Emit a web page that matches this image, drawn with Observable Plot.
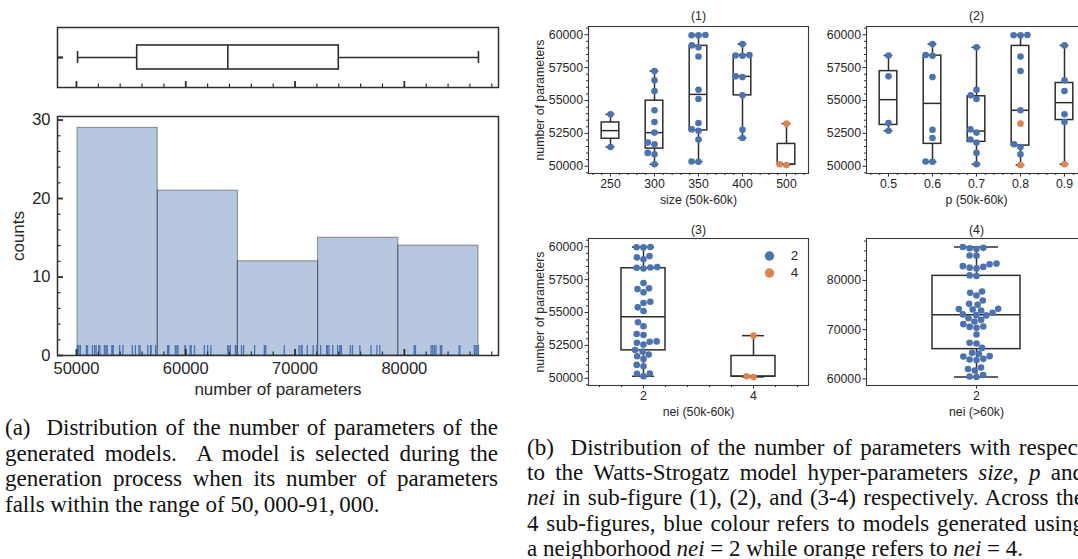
<!DOCTYPE html>
<html><head><meta charset="utf-8">
<script src="https://cdn.jsdelivr.net/npm/d3@7"></script>
<script src="https://cdn.jsdelivr.net/npm/@observablehq/plot@0.6"></script>
<style>
html,body{margin:0;padding:0;background:#fff;}
#page{position:relative;width:1078px;height:559px;overflow:hidden;background:#fff;}
.panel{position:absolute;}
.panel svg{display:block;overflow:visible;}
.cap{position:absolute;font-family:"Liberation Serif","Times New Roman",serif;font-size:23px;color:#111;}
.cap .ln{text-align:justify;text-align-last:justify;}
.cap .last{text-align:left;text-align-last:left;}
</style>
</head><body>
<div id="page">
  <div class="panel" id="pA" style="left:0;top:0"></div>
  <div class="panel" id="pB" style="left:0;top:100px"></div>
  <div class="panel" id="p1" style="left:520px;top:0"></div>
  <div class="panel" id="p2" style="left:800px;top:0"></div>
  <div class="panel" id="p3" style="left:520px;top:215px"></div>
  <div class="panel" id="p4" style="left:800px;top:215px"></div>
  <div class="cap" style="left:5px;top:415px;width:493px;line-height:25.6px">
    <div class="ln">(a)&nbsp; Distribution of the number of parameters of the</div>
    <div class="ln">generated models.&nbsp; A model is selected during the</div>
    <div class="ln">generation process when its number of parameters</div>
    <div class="ln last">falls within the range of 50,&#8201;000-91,&#8201;000.</div>
  </div>
  <div class="cap" style="left:527px;top:435px;width:557px;line-height:25.2px">
    <div class="ln">(b)&nbsp; Distribution of the number of parameters with respect</div>
    <div class="ln">to the Watts-Strogatz model hyper-parameters <i>size</i>, <i>p</i> and</div>
    <div class="ln"><i>nei</i> in sub-figure (1), (2), and (3-4) respectively. Across the</div>
    <div class="ln">4 sub-figures, blue colour refers to models generated using</div>
    <div class="ln last">a neighborhood <i>nei</i> = 2 while orange refers to <i>nei</i> = 4.</div>
  </div>
</div>
<script>
// ---------------- data ----------------
const sizeCats = [250, 300, 350, 400, 500];
const pCats = [0.5, 0.6, 0.7, 0.8, 0.9];
const neiCats = [2, 4];

// models with 50k-60k parameters
const params5060 = [53949, 51468, 57241, 56532, 55722, 54253, 53367, 52557, 51797, 51671, 51013, 50911, 50152,
  59975, 59960, 59950, 59190, 59040, 58350, 55820, 55110, 53290, 52800, 52700, 52030, 50360, 50340,
  59290, 58450, 58420, 58400, 56835, 56780, 55390, 52780, 52150,
  53240, 50150, 50100];
const size5060 = [250, 250, 300, 300, 300, 300, 300, 300, 300, 300, 300, 300, 300,
  350, 350, 350, 350, 350, 350, 350, 350, 350, 350, 350, 350, 350, 350,
  400, 400, 400, 400, 400, 400, 400, 400, 400,
  500, 500, 500];
const p5060 = [0.9, 0.8, 0.8, 0.9, 0.9, 0.8, 0.9, 0.7, 0.7, 0.8, 0.7, 0.8, 0.7,
  0.8, 0.8, 0.8, 0.9, 0.7, 0.8, 0.7, 0.7, 0.5, 0.7, 0.5, 0.7, 0.6, 0.6,
  0.6, 0.6, 0.5, 0.6, 0.5, 0.6, 0.7, 0.6, 0.6,
  0.8, 0.9, 0.8];
const nei5060 = [2, 2, 2, 2, 2, 2, 2, 2, 2, 2, 2, 2, 2,
  2, 2, 2, 2, 2, 2, 2, 2, 2, 2, 2, 2, 2, 2,
  2, 2, 2, 2, 2, 2, 2, 2, 2,
  4, 4, 4];
// models with more than 60k parameters (all nei = 2)
const params60 = [86780, 86620, 86550, 86400, 85080, 85020, 83420, 83300, 82900, 82750, 82600, 82450, 81020, 80900,
  77760, 77490, 76950, 75930, 75250, 75050, 74240, 74200, 74100, 73900, 73450, 73100, 72950, 72900, 72340,
  72000, 71650, 71120, 70640, 70560, 70370, 69020, 67320, 67190, 66300, 65290, 65100,
  64620, 64540, 64070, 63940, 63850, 62300, 62000, 61700, 60800, 60500, 60400];
const nei60 = params60.map(() => 2);

const histBins = 5;
const histMajor = [50000, 60000, 70000, 80000];
const countMajor = [0, 10, 20, 30];
const yMajor50 = [50000, 52500, 55000, 57500, 60000];
const yMajor60 = [60000, 70000, 80000];

// ---------------- styles ----------------
const blue = "#4c72b0", orange = "#dd8452", ink = "#262626", lineC = "#2e2e2e";
const svgStyle = "background:transparent;overflow:visible;max-width:none;font-family:'Liberation Sans',Arial,sans-serif;color:#262626;";

function boxStats(vals) {
  const s = vals.slice().sort(d3.ascending);
  const q1 = d3.quantileSorted(s, 0.25), med = d3.quantileSorted(s, 0.5), q3 = d3.quantileSorted(s, 0.75);
  const iqr = q3 - q1;
  const lo = d3.min(s.filter(v => v >= q1 - 1.5 * iqr));
  const hi = d3.max(s.filter(v => v <= q3 + 1.5 * iqr));
  return {q1, med, q3, lo, hi};
}

// seaborn-like beeswarm in pixel space
function swarm(ys, r) {
  const order = d3.range(ys.length).sort((a, b) => ys[a] - ys[b]);
  const placed = [], out = new Array(ys.length), D2 = 4 * r * r;
  for (const i of order) {
    const y = ys[i];
    const neigh = placed.filter(p => Math.abs(p.y - y) < 2 * r);
    const cands = [0];
    let leftFirst = true;
    for (const p of neigh) {
      const dx = Math.sqrt(Math.max(D2 - (y - p.y) ** 2, 0)) * 1.05;
      if (leftFirst) cands.push(p.x - dx, p.x + dx); else cands.push(p.x + dx, p.x - dx);
      leftFirst = !leftFirst;
    }
    const sorted = cands.map((x, k) => ({x, k})).sort((a, b) => Math.abs(a.x) - Math.abs(b.x) || a.k - b.k);
    let chosen = sorted[0].x;
    for (const c of sorted) {
      if (neigh.every(p => (p.x - c.x) ** 2 + (p.y - y) ** 2 >= D2 - 1e-6)) { chosen = c.x; break; }
    }
    placed.push({x: chosen, y});
    out[i] = chosen;
  }
  return out;
}

function padDomain(vals, f) {
  const [a, b] = d3.extent(vals);
  return [a - f * (b - a), b + f * (b - a)];
}
function minorTicks(dom, step, majors) {
  return d3.range(Math.ceil(dom[0] / step) * step, dom[1] + 1e-9, step)
    .filter(v => !majors.some(m => Math.abs(m - v) < 1e-6));
}
const mid = {textAnchor: "middle", lineAnchor: "middle"};

// ---------------- left panel ----------------
const all = params5060.concat(params60);
const xDom = padDomain(all, 0.05);
const xMinor = minorTicks(xDom, 2000, histMajor);
const allStats = boxStats(all);
const blank = () => "";

const boxA = Plot.plot({
  width: 520, height: 100, marginLeft: 57, marginRight: 22, marginTop: 27, marginBottom: 13,
  style: svgStyle,
  x: {domain: xDom}, y: {domain: [-0.5, 0.5]},
  marks: [
    Plot.rect([allStats], {x1: "q1", x2: "q3", y1: () => -0.2, y2: () => 0.2, fill: "white", stroke: lineC, strokeWidth: 1.6}),
    Plot.ruleY([allStats], {y: () => 0, x1: "lo", x2: "q1", stroke: lineC, strokeWidth: 1.6}),
    Plot.ruleY([allStats], {y: () => 0, x1: "q3", x2: "hi", stroke: lineC, strokeWidth: 1.6}),
    Plot.ruleX([allStats.lo, allStats.hi], {x: d => d, y1: () => -0.1, y2: () => 0.1, stroke: lineC, strokeWidth: 1.6}),
    Plot.ruleX([allStats], {x: "med", y1: () => -0.2, y2: () => 0.2, stroke: lineC, strokeWidth: 1.6}),
    Plot.frame({stroke: lineC, strokeWidth: 1.5}),
    Plot.axisX({ticks: histMajor, tickSize: -6, strokeWidth: 1.8, tickFormat: blank, label: null, stroke: lineC}),
    Plot.axisX({ticks: xMinor, tickSize: -3.5, strokeWidth: 1.2, tickFormat: blank, label: null, stroke: lineC}),
    Plot.axisY({ticks: [0], tickSize: -6, strokeWidth: 2.2, tickFormat: blank, label: null, stroke: lineC})
  ]
});
document.getElementById("pA").append(boxA);

const bins = d3.bin().domain(d3.extent(all))
  .thresholds(d3.range(1, histBins).map(k => d3.min(all) + k * (d3.max(all) - d3.min(all)) / histBins))(all)
  .map(b => ({x0: b.x0, x1: b.x1, count: b.length}));
const yHistDom = [0, d3.max(bins, b => b.count) * 1.05];
const histH = 300, histMT = 16, histMB = 45;

const hist = Plot.plot({
  width: 520, height: histH, marginLeft: 57, marginRight: 22, marginTop: histMT, marginBottom: histMB,
  style: svgStyle,
  x: {domain: xDom}, y: {domain: yHistDom},
  marks: [
    Plot.rect(bins, {x1: "x0", x2: "x1", y1: () => 0, y2: "count", fill: blue, fillOpacity: 0.4, stroke: "#1a1a1a", strokeOpacity: 0.42, strokeWidth: 1.1}),
    Plot.tickX(all, {x: d => d, stroke: blue, strokeWidth: 1.3, insetTop: histH - histMT - histMB - 10}),
    Plot.frame({stroke: lineC, strokeWidth: 1.5}),
    Plot.axisX({ticks: histMajor, tickSize: -6, tickPadding: 13, strokeWidth: 1.8, fontSize: 16.5, tickFormat: d => String(d), label: null, stroke: lineC}),
    Plot.axisX({ticks: xMinor, tickSize: -3.5, strokeWidth: 1.2, tickFormat: blank, label: null, stroke: lineC}),
    Plot.axisY({ticks: countMajor, tickSize: -6, tickPadding: 13, strokeWidth: 1.8, fontSize: 16.5, tickFormat: d => String(d), label: null, stroke: lineC}),
    Plot.axisY({ticks: minorTicks(yHistDom, 2, countMajor), tickSize: -3.5, strokeWidth: 1.2, tickFormat: blank, label: null, stroke: lineC}),
    Plot.text(["number of parameters"], {frameAnchor: "bottom", dy: 34, fontSize: 17, fill: ink, ...mid}),
    Plot.text(["counts"], {frameAnchor: "left", dx: -39, rotate: -90, fontSize: 17, fill: ink, ...mid})
  ]
});
document.getElementById("pB").append(hist);

// ---------------- right panels ----------------
const R = 3.3;
function catPanel(o) {
  const {cats, values, groups, neis, yMajor, yMinorStep, width, height, mL, mR, mT, mB, title, xlabel, ylabel, legend, minorX, fmt} = o;
  const n = cats.length;
  const innerW = width - mL - mR, innerH = height - mT - mB;
  const band = innerW / n;
  const yDom = padDomain(values, 0.066);
  const pxPerUnit = innerH / (yDom[1] - yDom[0]);
  const rows = values.map((v, i) => ({v, ci: cats.indexOf(groups[i]), nei: neis[i]}));
  const stats = cats.map((c, ci) => ({ci, ...boxStats(rows.filter(r => r.ci === ci).map(r => r.v))}));
  cats.forEach((c, ci) => {
    const g = rows.filter(r => r.ci === ci);
    const offs = swarm(g.map(r => r.v * pxPerUnit), R);
    g.forEach((r, k) => { r.x = ci + offs[k] / band; });
  });
  const xMin = minorX ? d3.range(-0.4, n - 0.5, 0.2).filter(v => Math.abs(v - Math.round(v)) > 1e-6) : [];
  const marks = [
    Plot.rect(stats, {x1: d => d.ci - 0.2, x2: d => d.ci + 0.2, y1: "q1", y2: "q3", fill: "white", stroke: lineC, strokeWidth: 1.5}),
    Plot.ruleX(stats, {x: "ci", y1: "q3", y2: "hi", stroke: lineC, strokeWidth: 1.5}),
    Plot.ruleX(stats, {x: "ci", y1: "lo", y2: "q1", stroke: lineC, strokeWidth: 1.5}),
    Plot.ruleY(stats, {y: "hi", x1: d => d.ci - 0.1, x2: d => d.ci + 0.1, stroke: lineC, strokeWidth: 1.5}),
    Plot.ruleY(stats, {y: "lo", x1: d => d.ci - 0.1, x2: d => d.ci + 0.1, stroke: lineC, strokeWidth: 1.5}),
    Plot.ruleY(stats, {y: "med", x1: d => d.ci - 0.2, x2: d => d.ci + 0.2, stroke: lineC, strokeWidth: 1.5}),
    Plot.dot(rows, {x: "x", y: "v", r: R, fill: "nei", stroke: "none"}),
    Plot.frame({stroke: "#3a3a3a", strokeWidth: 1.1}),
    Plot.axisX({ticks: d3.range(n), tickSize: 3.5, tickPadding: 2, fontSize: 12.3, tickFormat: i => fmt(cats[i]), label: null, stroke: lineC}),
    Plot.axisY({ticks: yMajor, tickSize: 3.5, tickPadding: 2, fontSize: 12.3, label: null, tickFormat: d => String(d), stroke: lineC}),
    Plot.axisY({ticks: minorTicks(yDom, yMinorStep, yMajor), tickSize: 2, tickFormat: blank, label: null, stroke: lineC}),
    Plot.text([title], {frameAnchor: "top", dy: o.titleDy, fontSize: 12.3, fill: ink, ...mid}),
    Plot.text([xlabel], {frameAnchor: "bottom", dy: o.xlabDy, fontSize: 12.3, fill: ink, ...mid})
  ];
  if (xMin.length) marks.push(Plot.axisX({ticks: xMin, tickSize: 2, tickFormat: blank, label: null, stroke: lineC}));
  if (ylabel) marks.push(Plot.text([ylabel], {frameAnchor: "left", dx: -48, rotate: -90, fontSize: 12.3, fill: ink, ...mid}));
  if (legend) neiCats.forEach((c, i) => {
    marks.push(Plot.dot([c], {frameAnchor: "top-right", dx: -39, dy: 17.5 + 17 * i, r: 4.7, fill: d => d, stroke: "none"}));
    marks.push(Plot.text([c], {frameAnchor: "top-right", dx: -14, dy: 17.5 + 17 * i, text: d => String(d), fontSize: 13.5, fill: ink, ...mid}));
  });
  return Plot.plot({
    width, height, marginLeft: mL, marginRight: mR, marginTop: mT, marginBottom: mB,
    style: svgStyle,
    x: {domain: [-0.5, n - 0.5]}, y: {domain: yDom},
    color: {domain: neiCats, range: [blue, orange]},
    marks
  });
}

document.getElementById("p1").append(catPanel({
  cats: sizeCats, values: params5060, groups: size5060, neis: nei5060, yMajor: yMajor50, yMinorStep: 500,
  width: 290, height: 215, mL: 68, mR: 2, mT: 26, mB: 42, title: "(1)", titleDy: -10, xlabDy: 27,
  xlabel: "size (50k-60k)", ylabel: "number of parameters", minorX: true, fmt: String
}));
document.getElementById("p2").append(catPanel({
  cats: pCats, values: params5060, groups: p5060, neis: nei5060, yMajor: yMajor50, yMinorStep: 500,
  width: 288, height: 215, mL: 66, mR: 2, mT: 26, mB: 42, title: "(2)", titleDy: -10, xlabDy: 27,
  xlabel: "p (50k-60k)", minorX: true, fmt: String
}));
document.getElementById("p3").append(catPanel({
  cats: neiCats, values: params5060, groups: nei5060, neis: nei5060, yMajor: yMajor50, yMinorStep: 500,
  width: 290, height: 205, mL: 68, mR: 2, mT: 23, mB: 35, title: "(3)", titleDy: -8, xlabDy: 27,
  xlabel: "nei (50k-60k)", ylabel: "number of parameters", minorX: true, legend: true, fmt: String
}));
document.getElementById("p4").append(catPanel({
  cats: [2], values: params60, groups: nei60, neis: nei60, yMajor: yMajor60, yMinorStep: 2000,
  width: 288, height: 205, mL: 66, mR: 2, mT: 23, mB: 35, title: "(4)", titleDy: -8, xlabDy: 27,
  xlabel: "nei (>60k)", minorX: false, fmt: String
}));
</script>
</body></html>
